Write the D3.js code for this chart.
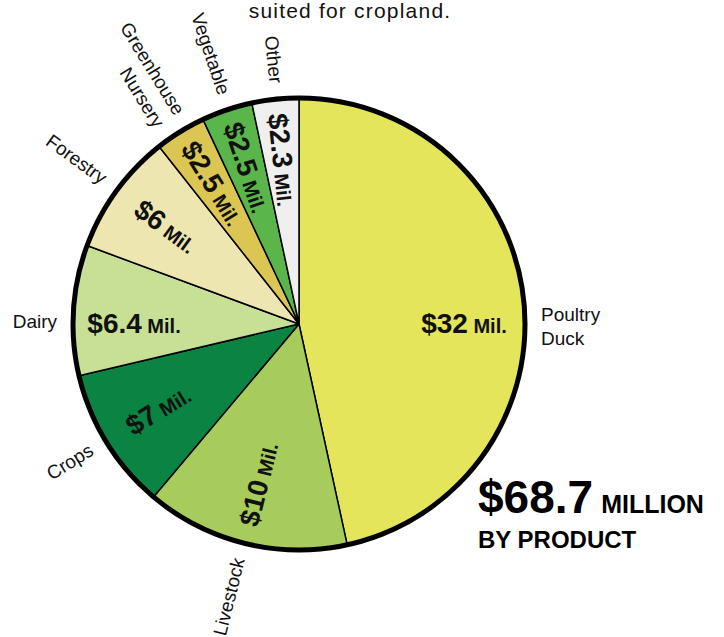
<!DOCTYPE html>
<html>
<head>
<meta charset="utf-8">
<script src="https://cdn.jsdelivr.net/npm/d3@7"></script>
<style>
  html, body { margin: 0; padding: 0; background: #fff; }
  svg { display: block; }
</style>
</head>
<body>
<svg id="chart" width="724" height="637"></svg>
<script>
const categories = ["Poultry\nDuck", "Livestock", "Crops", "Dairy", "Forestry", "Greenhouse\nNursery", "Vegetable", "Other"];
const values = [32, 10, 7, 6.4, 6, 2.5, 2.5, 2.3];
const valueLabels = ["$32", "$10", "$7", "$6.4", "$6", "$2.5", "$2.5", "$2.3"];
const colors = ["#e5e55c", "#a8cc5c", "#0b8443", "#c8df96", "#ede6b0", "#dcc653", "#5ab54b", "#efefef"];
const subtitle = "suited for cropland.";
const totalLabel = "$68.7";

const svg = d3.select("#chart");
const cx = 299, cy = 324, R = 226;

svg.append("text")
  .attr("x", 350).attr("y", 18)
  .attr("text-anchor", "middle")
  .attr("font-family", "Liberation Sans, Arial, sans-serif")
  .attr("font-size", 21)
  .attr("letter-spacing", 1.2)
  .attr("fill", "#111")
  .text(subtitle);

const g = svg.append("g").attr("transform", `translate(${cx},${cy})`);

const pie = d3.pie().sort(null).value(d => d.v);
const data = pie(values.map((v, i) => ({ v, i })));
const arc = d3.arc().innerRadius(0).outerRadius(R);

g.selectAll("path.slice")
  .data(data)
  .enter().append("path")
  .attr("class", "slice")
  .attr("d", arc)
  .attr("fill", d => colors[d.data.i])
  .attr("stroke", "#000")
  .attr("stroke-width", 1.5)
  .attr("stroke-linejoin", "round");

g.append("circle")
  .attr("r", R)
  .attr("fill", "none")
  .attr("stroke", "#000")
  .attr("stroke-width", 5);

function labelGeom(d) {
  let a = (d.startAngle + d.endAngle) / 2 * 180 / Math.PI; // degrees clockwise from top
  const right = a < 180;
  let rot = right ? a - 90 : a - 270;
  if (Math.abs(rot) < 10) { rot = 0; a = right ? 90 : 270; }
  return { a, rot, right };
}
function pt(aDeg, r) {
  const t = aDeg * Math.PI / 180;
  return [Math.sin(t) * r, -Math.cos(t) * r];
}

// value labels
const vl = g.selectAll("text.val")
  .data(data)
  .enter().append("text")
  .attr("class", "val")
  .attr("text-anchor", "middle")
  .attr("font-family", "Liberation Sans, Arial, sans-serif")
  .attr("font-weight", "bold")
  .attr("fill", "#111")
  .attr("transform", d => {
    const gm = labelGeom(d);
    const [x, y] = pt(gm.a, 165);
    return `translate(${x},${y}) rotate(${gm.rot})`;
  })
  .attr("dy", 9);
vl.append("tspan").attr("font-size", 28).text(d => valueLabels[d.data.i]);
vl.append("tspan").attr("font-size", 20).text(" Mil.");

// category labels
const cl = g.selectAll("text.cat")
  .data(data)
  .enter().append("text")
  .attr("class", "cat")
  .attr("font-family", "Liberation Sans, Arial, sans-serif")
  .attr("font-size", 19)
  .attr("fill", "#111")
  .attr("text-anchor", d => labelGeom(d).right ? "start" : "end")
  .attr("transform", d => {
    const gm = labelGeom(d);
    const [x, y] = pt(gm.a, 242);
    return `translate(${x},${y}) rotate(${gm.rot})`;
  });
cl.each(function(d) {
  const lines = categories[d.data.i].split("\n");
  const lh = 24;
  const t = d3.select(this);
  lines.forEach((ln, k) => {
    t.append("tspan")
      .attr("x", 0)
      .attr("y", (k - (lines.length - 1) / 2) * lh + (lines.length > 1 ? 9 : 4))
      .text(ln);
  });
});

// total block
const tb = svg.append("text")
  .attr("x", 478).attr("y", 513)
  .attr("font-family", "Liberation Sans, Arial, sans-serif")
  .attr("font-weight", "bold")
  .attr("fill", "#000");
tb.append("tspan").attr("font-size", 46).text(totalLabel);
tb.append("tspan").attr("font-size", 25).attr("dx", 8).text("MILLION");
svg.append("text")
  .attr("x", 478).attr("y", 548)
  .attr("font-family", "Liberation Sans, Arial, sans-serif")
  .attr("font-weight", "bold")
  .attr("font-size", 24)
  .attr("fill", "#000")
  .text("BY PRODUCT");
</script>
</body>
</html>
